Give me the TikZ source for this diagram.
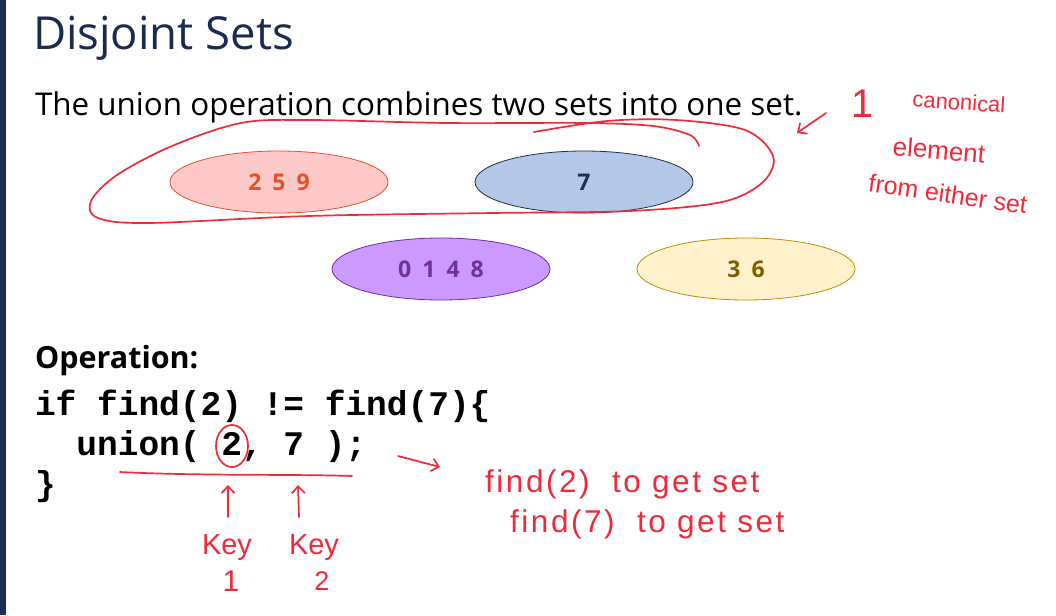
\documentclass[tikz,border=0pt]{standalone}
\usepackage{fontspec}
\setmainfont{Open Sans}
\newfontfamily\codefont{Liberation Mono}
\newfontfamily\handfont{Liberation Sans}
\usetikzlibrary{shapes.geometric,arrows.meta}
\definecolor{titleblue}{HTML}{1B2B4D}
\definecolor{barblue}{HTML}{1B2C4E}
\definecolor{ink}{HTML}{F02A3A}
\definecolor{redfill}{HTML}{FFC9C9}
\definecolor{redline}{HTML}{E8502A}
\definecolor{bluefill}{HTML}{B4C7E7}
\definecolor{blueline}{HTML}{1F2F4F}
\definecolor{purplefill}{HTML}{CC99FF}
\definecolor{purpleline}{HTML}{7030A0}
\definecolor{yellowfill}{HTML}{FFF2CC}
\definecolor{yellowline}{HTML}{BF9000}
\definecolor{yellowtext}{HTML}{7F6000}
\begin{document}
\begin{tikzpicture}[x=1pt,y=-1pt,
  txt/.style={anchor=base west,inner sep=0pt,outer sep=0pt},
  setnode/.style={ellipse,draw,line width=0.8pt,minimum width=218pt,minimum height=62pt,inner sep=0pt,
    font=\fontsize{23}{23}\selectfont\bfseries\addfontfeature{LetterSpace=22}},
  hand/.style={inner sep=0pt,text=ink,font=\handfont},
  inkline/.style={draw=ink,line width=1.7pt,line cap=round,line join=round},
  inkarrow/.style={inkline,-{Straight Barb[length=7pt,width=13pt,line width=1.7pt]}}]
\useasboundingbox (0,0) rectangle (1056,615);
\fill[white] (0,0) rectangle (1056,615);
% slide edge
\fill[barblue] (0,0) rectangle (6,615);

% title and lead sentence
\node[txt,text=titleblue,font=\fontsize{45.5}{45.5}\selectfont] (title) at (33,50) {Disjoint Sets};
\node[txt,font=\fontsize{31.4}{31.4}\selectfont] (lead) at (35,115) {The union operation combines two sets into one set.};

% the four sets
\node[setnode,fill=redfill,draw=redline,text=redline] (s259) at (279,182) {2 5 9};
\node[setnode,fill=bluefill,draw=blueline,text=blueline] (s7) at (584,182) {7};
\node[setnode,fill=purplefill,draw=purpleline,text=purpleline] (s0148) at (441,269) {0 1 4 8};
\node[setnode,fill=yellowfill,draw=yellowline,text=yellowtext] (s36) at (746,269) {3 6};

% code
\node[txt,font=\fontsize{30.5}{30.5}\selectfont\bfseries] (op) at (35,368) {Operation:};
\node[txt,font=\codefont\fontsize{34.5}{34.5}\selectfont\bfseries] (l1) at (35,415) {if find(2) != find(7)\{};
\node[txt,font=\codefont\fontsize{34.5}{34.5}\selectfont\bfseries] (l2) at (35,455) {\ \ union( 2, 7 );};
\node[txt,font=\codefont\fontsize{34.5}{34.5}\selectfont\bfseries] (l3) at (35,495) {\}};

% ink: loop around the two sets being joined
\draw[inkline] plot[smooth,tension=0.55] coordinates {
  (534,132) (607,121) (676,120) (745,130) (773,156) (763,182) (722,202)
  (630,211) (493,213) (309,216) (149,223) (98,218) (91,201) (117,175)
  (172,146) (241,123) (309,120) (447,123) (585,123) (653,126) (690,135) (699,146)};

% ink: note on the canonical element
\coordinate (noteTail) at (826,113);
\coordinate (noteHead) at (797,133);
\draw[inkarrow] (noteTail) -- (noteHead);
\node[hand,font=\handfont\fontsize{40}{40}\selectfont] (one) at (863,104) {1};
\node[hand,font=\handfont\fontsize{22}{22}\selectfont,rotate=-4] (canon) at (959,102) {canonical};
\node[hand,font=\handfont\fontsize{26}{26}\selectfont,rotate=-5] (elem) at (939,150) {element};
\node[hand,font=\handfont\fontsize{25}{25}\selectfont,rotate=-8] (either) at (948,194) {from either set};

% ink: marks on the call
\node[inkline,ellipse,minimum width=32pt,minimum height=42pt,inner sep=0pt] (ring) at (232,446) {};
\coordinate (ulA) at (120,472);
\coordinate (ulB) at (352,476);
\draw[inkline] (ulA) .. controls (200,476) and (290,474) .. (ulB);
\node[hand,font=\handfont\fontsize{29}{29}\selectfont] (key1) at (227,548) {Key};
\node[hand,font=\handfont\fontsize{29}{29}\selectfont] (key2) at (314,548) {Key};
\node[hand,font=\handfont\fontsize{30}{30}\selectfont] (num1) at (231,581) {1};
\node[hand,font=\handfont\fontsize{27}{27}\selectfont] (num2) at (322,581) {2};
\coordinate (up1) at (228,485);
\coordinate (up2) at (298,485);
\draw[inkarrow] (228,517) -- (up1);
\draw[inkarrow] (299,517) -- (up2);

% ink: what the call does
\coordinate (callTail) at (398,456);
\coordinate (callHead) at (440,467);
\draw[inkarrow] (callTail) -- (callHead);
\node[hand,font=\handfont\fontsize{31.5}{31.5}\selectfont\addfontfeature{LetterSpace=8},anchor=base west] (find2) at (485,492) {find(2)\ \ to get set};
\node[hand,font=\handfont\fontsize{31.5}{31.5}\selectfont\addfontfeature{LetterSpace=8},anchor=base west] (find7) at (510,532) {find(7)\ \ to get set};
\end{tikzpicture}
\end{document}
